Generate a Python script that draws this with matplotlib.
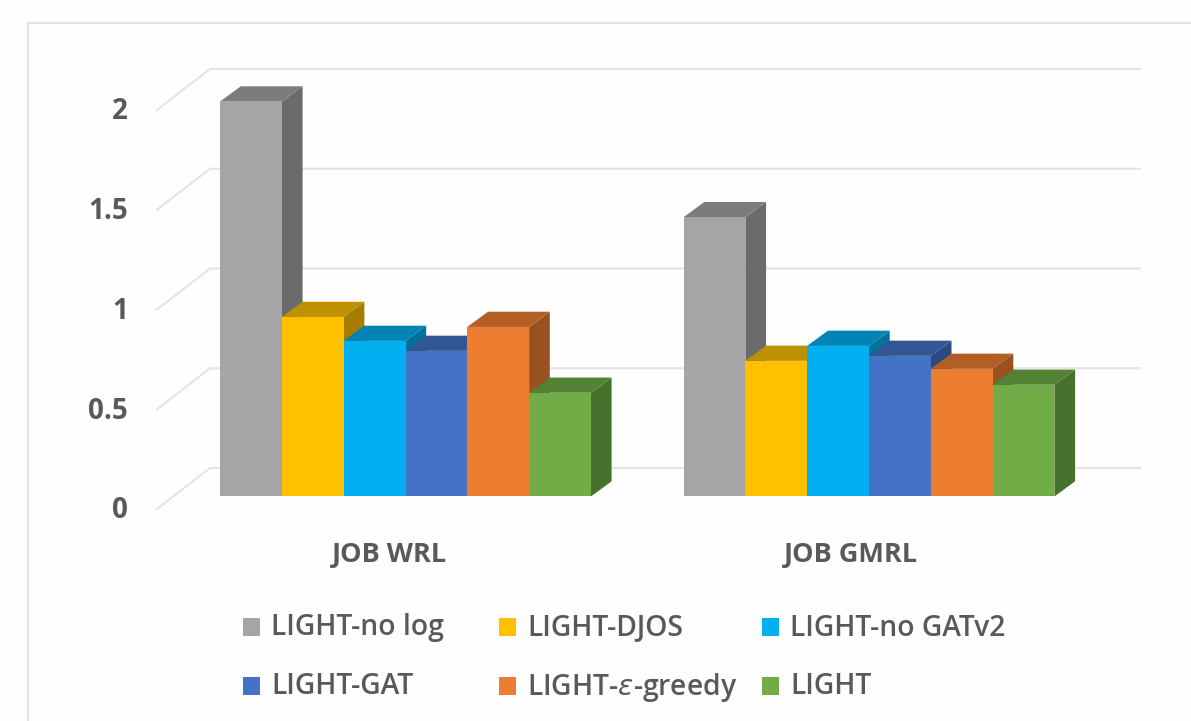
#!/usr/bin/env python3
import matplotlib
matplotlib.use("Agg")
import matplotlib.pyplot as plt
from matplotlib.patches import Polygon, Rectangle

categories = ["JOB WRL", "JOB GMRL"]
series_names = ["LIGHT-no log", "LIGHT-DJOS", "LIGHT-no GATv2",
                "LIGHT-GAT", r"LIGHT-$\epsilon$-greedy", "LIGHT"]
wrl_values = [1.98, 0.90, 0.78, 0.73, 0.85, 0.52]
gmrl_values = [1.40, 0.68, 0.755, 0.705, 0.64, 0.56]
y_ticks = [0, 0.5, 1, 1.5, 2]
y_tick_labels = ["0", "0.5", "1", "1.5", "2"]

front_colors = ["#A5A5A5", "#FFC000", "#00B0F0", "#4472C4", "#ED7D31", "#70AD47"]
top_colors = ["#7C7C7C", "#BF9000", "#0084B4", "#335693", "#B25E25", "#548235"]
side_colors = ["#6B6B6B", "#A67D00", "#00729C", "#2C4A80", "#9A5120", "#49712E"]

WIDTH, HEIGHT = 1191, 721
PX_PER_CATEGORY = 463.5
PX_PER_UNIT = 199.5
X0_PX, Y0_PX = 405.5, 496.5
BAR_W = 61.8 / PX_PER_CATEGORY
DEPTH_X = 20.7 / PX_PER_CATEGORY
DEPTH_Y = 15.2 / PX_PER_UNIT

TEXT_COLOR = "#595959"
GRID_COLOR = "#E4E4E4"
FONT = ["Open Sans", "DejaVu Sans"]

plt.rcParams["font.family"] = FONT

fig = plt.figure(figsize=(WIDTH / 100, HEIGHT / 100), dpi=100, facecolor="#FEFEFE")
ax = fig.add_axes([0, 0, 1, 1])
ax.set_xlim(-X0_PX / PX_PER_CATEGORY, (WIDTH - X0_PX) / PX_PER_CATEGORY)
ax.set_ylim((Y0_PX - HEIGHT) / PX_PER_UNIT, Y0_PX / PX_PER_UNIT)
ax.axis("off")

# outer chart frame, only the left and top edges fall inside the canvas
frame_x = (28 - X0_PX) / PX_PER_CATEGORY
frame_y = (Y0_PX - 23) / PX_PER_UNIT
ax.plot([frame_x, frame_x, ax.get_xlim()[1]], [ax.get_ylim()[0], frame_y, frame_y],
        color=GRID_COLOR, lw=1.6, solid_joinstyle="miter", zorder=0)

# back wall gridlines with the short diagonal running across the floor
wall_left = (210 - X0_PX) / PX_PER_CATEGORY
wall_right = (1140 - X0_PX) / PX_PER_CATEGORY
floor_left = (157 - X0_PX) / PX_PER_CATEGORY
wall_rise = 28.5 / PX_PER_UNIT
floor_drop = 12.5 / PX_PER_UNIT
for v, label in zip(y_ticks, y_tick_labels):
    ax.plot([floor_left, wall_left, wall_right],
            [v - floor_drop, v + wall_rise, v + wall_rise],
            color=GRID_COLOR, lw=1.5, solid_joinstyle="round", zorder=0)
    ax.text((128 - X0_PX) / PX_PER_CATEGORY, v - 0.072, label, ha="right", va="center",
            fontsize=20, fontweight="bold", color=TEXT_COLOR)


def draw_bar(x, value, i, z):
    # one cuboid: front face plus the visible top and right faces
    top = [(x, value), (x + DEPTH_X, value + DEPTH_Y),
           (x + BAR_W + DEPTH_X, value + DEPTH_Y), (x + BAR_W, value)]
    side = [(x + BAR_W, 0), (x + BAR_W + DEPTH_X, DEPTH_Y),
            (x + BAR_W + DEPTH_X, value + DEPTH_Y), (x + BAR_W, value)]
    ax.add_patch(Polygon(side, closed=True, facecolor=side_colors[i], edgecolor="none", zorder=z))
    ax.add_patch(Polygon(top, closed=True, facecolor=top_colors[i], edgecolor="none", zorder=z))
    ax.bar(x, value, width=BAR_W, align="edge", color=front_colors[i], linewidth=0, zorder=z)


for c, values in enumerate([wrl_values, gmrl_values]):
    for i, value in enumerate(values):
        draw_bar(c + (i - 3) * BAR_W, value, i, 1 + i)

# category names sit a little left of the group centres because of the depth shift
label_px = [390, 851]
for name, px in zip(categories, label_px):
    ax.text((px - X0_PX) / PX_PER_CATEGORY, (Y0_PX - 555) / PX_PER_UNIT, name,
            ha="center", va="center", fontsize=19.5, fontweight="bold", color=TEXT_COLOR)

# legend laid out by hand, three columns over two rows
legend_cols = [243, 499, 762]
legend_rows = [627, 686]
for i, name in enumerate(series_names):
    sx = legend_cols[i % 3]
    sy = legend_rows[i // 3]
    fig.add_artist(Rectangle((sx / WIDTH, 1 - (sy + 9) / HEIGHT), 17 / WIDTH, 18 / HEIGHT,
                             transform=fig.transFigure, facecolor=front_colors[i], edgecolor="none"))
    fig.text((sx + 28) / WIDTH, 1 - (sy + 1) / HEIGHT, name, ha="left", va="center",
             fontsize=20.3, fontweight="semibold", color=TEXT_COLOR)

fig.savefig("out.png", dpi=100, facecolor=fig.get_facecolor())
